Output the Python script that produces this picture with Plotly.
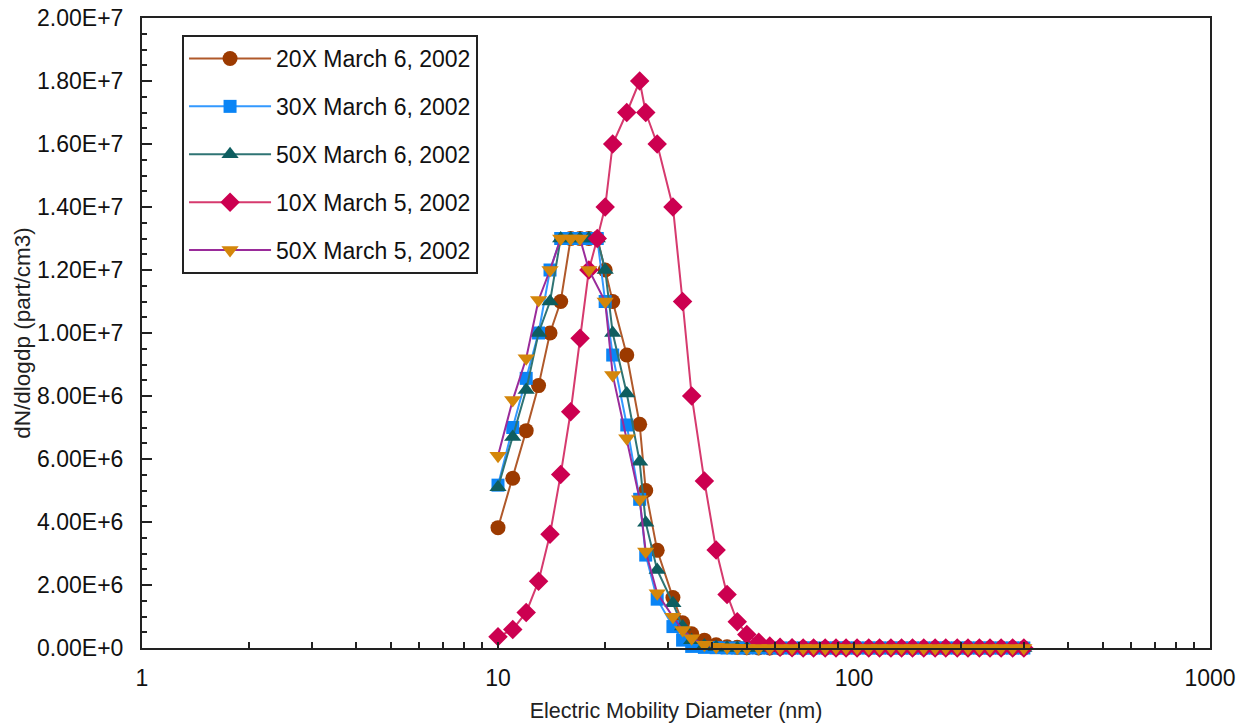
import plotly.graph_objects as go

# Electric mobility diameter (nm)
diameter_nm = [10, 11, 12, 13, 14, 15, 16, 17, 18, 19, 20, 21, 23, 25, 26, 28, 31, 33, 35, 38,
               41, 44, 47, 50, 54, 58, 62, 67, 72, 77, 83, 89, 95, 102, 110, 118, 127, 136, 146,
               157, 169, 181, 195, 209, 225, 241, 259, 279, 300]

# dN/dlogdp values in units of 1E+6 part/cm3
s20x_mar6 = [3.82, 5.39, 6.9, 8.33, 10.0, 11.0, 13.0, 13.0, 13.0, 13.0, 12.0, 11.0, 9.3, 7.1, 5.0,
             3.1, 1.6, 0.8, 0.45, 0.25, 0.1, 0.04, 0.02, 0.01, 0, 0, 0, 0, 0, 0, 0, 0, 0, 0, 0,
             0, 0, 0, 0, 0, 0, 0, 0, 0, 0, 0, 0, 0, 0]
s30x_mar6 = [5.17, 7.0, 8.56, 10.0, 12.0, 13.0, 13.0, 13.0, 13.0, 13.0, 11.0, 9.3, 7.08, 4.72,
             2.95, 1.55, 0.68, 0.25, 0.05, 0.02, 0.01, 0, 0, 0, 0, 0, 0, 0, 0, 0, 0, 0, 0, 0, 0,
             0, 0, 0, 0, 0, 0, 0, 0, 0, 0, 0, 0, 0, 0]
s50x_mar6 = [5.1, 6.7, 8.19, 10.0, 11.0, 13.0, 13.0, 13.0, 13.0, 13.0, 12.0, 10.0, 8.08, 5.91,
             3.98, 2.48, 1.42, 0.68, 0.25, 0.08, 0.03, 0.01, 0, 0, 0, 0, 0, 0, 0, 0, 0, 0, 0, 0,
             0, 0, 0, 0, 0, 0, 0, 0, 0, 0, 0, 0, 0, 0, 0]
s10x_mar5 = [0.36, 0.59, 1.13, 2.12, 3.61, 5.51, 7.5, 9.83, 12.0, 13.0, 14.0, 16.0, 17.0, 18.0,
             17.0, 16.0, 14.0, 11.0, 8.0, 5.3, 3.11, 1.7, 0.83, 0.43, 0.18, 0.06, 0.02, 0.01, 0,
             0, 0, 0, 0, 0, 0, 0, 0, 0, 0, 0, 0, 0, 0, 0, 0, 0, 0, 0, 0]
s50x_mar5 = [6.1, 7.87, 9.2, 11.05, 12.0, 13.0, 13.0, 13.0, 12.0, None, 11.0, 8.67, 6.66, 4.72,
             3.06, 1.74, 0.99, 0.57, 0.31, 0.1, 0.04, 0.02, 0.01, 0, 0, 0, 0, 0, 0, 0, 0, 0, 0,
             0, 0, 0, 0, 0, 0, 0, 0, 0, 0, 0, 0, 0, 0, 0, 0]

series_names = ["20X March 6, 2002", "30X March 6, 2002", "50X March 6, 2002",
                "10X March 5, 2002", "50X March 5, 2002"]

y_tick_vals = [0, 2e6, 4e6, 6e6, 8e6, 1e7, 1.2e7, 1.4e7, 1.6e7, 1.8e7, 2e7]
y_tick_text = ["0.00E+0", "2.00E+6", "4.00E+6", "6.00E+6", "8.00E+6", "1.00E+7",
               "1.20E+7", "1.40E+7", "1.60E+7", "1.80E+7", "2.00E+7"]
x_tick_vals = [1, 10, 100, 1000]
x_tick_text = ["1", "10", "100", "1000"]

styles = [
    dict(symbol="circle", mcolor="#9C3A00", lcolor="#B0592A", size=15),
    dict(symbol="square", mcolor="#0A84F5", lcolor="#3399FF", size=13),
    dict(symbol="triangle-up", mcolor="#0E5E60", lcolor="#2F7474", size=15),
    dict(symbol="diamond", mcolor="#CC0050", lcolor="#D63A6E", size=15),
    dict(symbol="triangle-down", mcolor="#D4860A", lcolor="#9A2B9A", size=15),
]

all_series = [s20x_mar6, s30x_mar6, s50x_mar6, s10x_mar5, s50x_mar5]

fig = go.Figure()
for i, (name, vals, st) in enumerate(zip(series_names, all_series, styles)):
    yv = [None if v is None else v * 1e6 for v in vals]
    fig.add_trace(go.Scatter(
        x=diameter_nm, y=yv, name=name, mode="lines+markers",
        connectgaps=True, legendgroup=f"g{i}",
        line=dict(color=st["lcolor"], width=2),
        marker=dict(symbol=st["symbol"], color=st["mcolor"], size=st["size"],
                    line=dict(width=0)),
        cliponaxis=False,
    ))

font_family = "Liberation Sans, Arial, sans-serif"

fig.update_layout(
    width=1244, height=723,
    margin=dict(l=142, r=34, t=18, b=75),
    paper_bgcolor="white", plot_bgcolor="white",
    font=dict(family=font_family, color="#111111"),
    showlegend=True,
    legend=dict(
        x=0.0375, y=0.973, xanchor="left", yanchor="top",
        bgcolor="white", bordercolor="#222222", borderwidth=2,
        font=dict(size=23, family=font_family, color="#111111"),
        tracegroupgap=15, traceorder="grouped",
        itemwidth=82,
    ),
    xaxis=dict(
        type="log", range=[0, 3], automargin=False,
        tickvals=x_tick_vals, ticktext=x_tick_text,
        ticks="inside", ticklen=6, tickwidth=1.5, tickcolor="#222222",
        minor=dict(ticks="inside", ticklen=6, tickwidth=1.5, tickcolor="#222222",
                   dtick="D1", showgrid=False),
        showline=True, linecolor="#222222", linewidth=2, mirror=True,
        showgrid=False, zeroline=False,
        tickfont=dict(size=23, family=font_family, color="#111111"),
        ticklabelstandoff=8, ticklabeloverflow="allow",
        title=dict(text="Electric Mobility Diameter (nm)",
                   font=dict(size=21.5, family=font_family, color="#222222"),
                   standoff=13),
    ),
    yaxis=dict(
        range=[0, 2e7], automargin=False,
        tickvals=y_tick_vals, ticktext=y_tick_text,
        ticks="inside", ticklen=10, tickwidth=1.5, tickcolor="#222222",
        minor=dict(ticks="inside", ticklen=5, tickwidth=1.5, tickcolor="#222222",
                   dtick=5e5, showgrid=False),
        showline=True, linecolor="#222222", linewidth=2, mirror=True,
        showgrid=False, zeroline=False,
        tickfont=dict(size=23, family=font_family, color="#111111"),
        ticklabelstandoff=12, ticklabeloverflow="allow",
        title=dict(text="dN/dlogdp (part/cm3)",
                   font=dict(size=22.5, family=font_family, color="#222222"),
                   standoff=0),
    ),
)

# remove the default page margin so the figure fills the 1244x723 window exactly
fig.write_html(
    "out.html",
    config={"displayModeBar": False},
    post_script="document.body.style.margin='0px'; document.body.style.overflow='hidden';",
)
